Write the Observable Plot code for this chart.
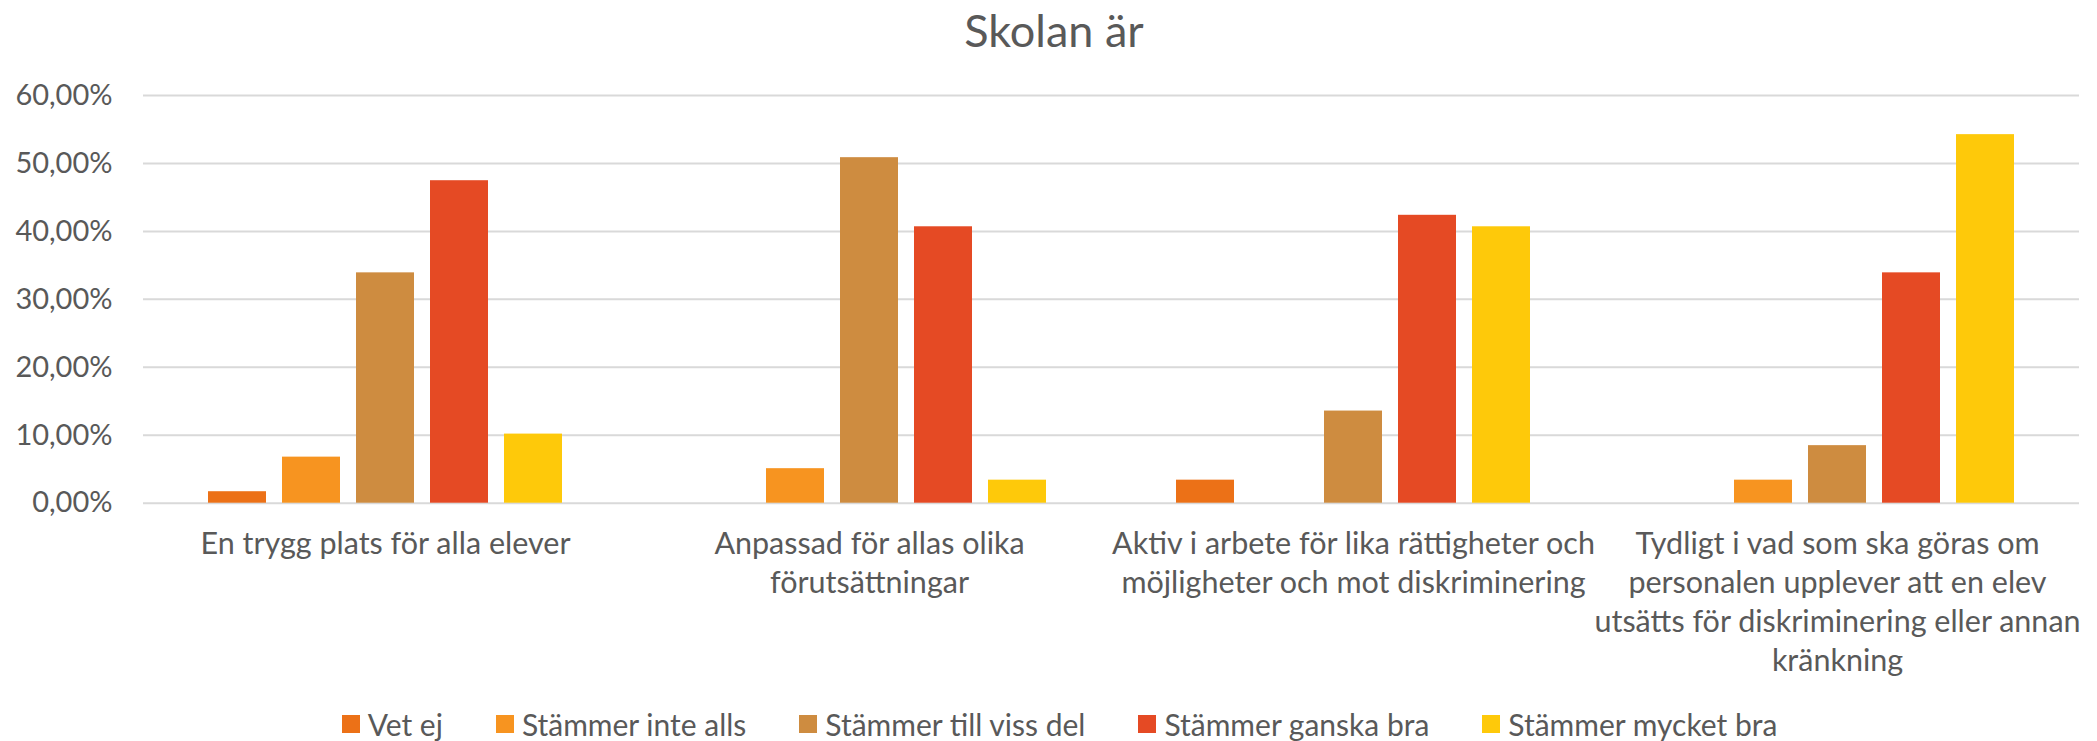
<!DOCTYPE html>
<html>
<head>
<meta charset="utf-8">
<script src="https://cdn.jsdelivr.net/npm/d3@7"></script>
<script src="https://cdn.jsdelivr.net/npm/@observablehq/plot@0.6"></script>
<style>
  html, body { margin: 0; padding: 0; background: #fff; }
  body { width: 2097px; height: 741px; overflow: hidden; position: relative; font-family: Lato, sans-serif; color: #595959; }
  #title { position: absolute; left: 0; top: 0; width: 2097px; height: 60px; line-height: 60px; text-align: center; font-size: 45px; padding-left: 11px; box-sizing: border-box; }
  #chart { position: absolute; left: 0; top: 60px; }
  #legend { position: absolute; left: 0; top: 705px; width: 2097px; height: 38px; display: flex; justify-content: center; align-items: center; padding-left: 22px; box-sizing: border-box; font-size: 30px; }
  .item { display: flex; align-items: center; margin: 0 26.5px; white-space: nowrap; }
  .sw { width: 18px; height: 18px; margin-right: 8px; display: inline-block; }
</style>
</head>
<body>
<div id="title">Skolan är</div>
<div id="chart"></div>
<div id="legend"></div>
<script>
// Categories (x groups)
const categories = [
  "En trygg plats för alla elever",
  "Anpassad för allas olika förutsättningar",
  "Aktiv i arbete för lika rättigheter och möjligheter och mot diskriminering",
  "Tydligt i vad som ska göras om personalen upplever att en elev utsätts för diskriminering eller annan kränkning"
];
// Tick labels as wrapped in the reference
const tickLabels = [
  "En trygg plats för alla elever",
  "Anpassad för allas olika\nförutsättningar",
  "Aktiv i arbete för lika rättigheter och\nmöjligheter och mot diskriminering",
  "Tydligt i vad som ska göras om\npersonalen upplever att en elev\nutsätts för diskriminering eller annan\nkränkning"
];
// Series
const series = ["Vet ej", "Stämmer inte alls", "Stämmer till viss del", "Stämmer ganska bra", "Stämmer mycket bra"];
const colors = ["#EC7117", "#F79420", "#CE8C40", "#E54A24", "#FEC90A"];
// Values in percent, one per category
const vetEj       = [1.69, 0,     3.39,  0];
const inteAlls    = [6.78, 5.08,  0,     3.39];
const tillVissDel = [33.90, 50.85, 13.56, 8.47];
const ganskaBra   = [47.46, 40.68, 42.37, 33.90];
const mycketBra   = [10.17, 3.39,  40.68, 54.24];
// Y ticks
const yTicks = [0, 10, 20, 30, 40, 50, 60];

const seriesValues = [vetEj, inteAlls, tillVissDel, ganskaBra, mycketBra];
const data = [];
categories.forEach((c, i) => {
  series.forEach((s, j) => {
    data.push({category: c, series: s, value: seriesValues[j][i]});
  });
});

const fmt = d => d.toFixed(2).replace(".", ",") + "%";

const chart = Plot.plot({
  width: 2097,
  height: 640,
  marginTop: 35,
  marginBottom: 197.3,
  marginLeft: 141,
  marginRight: 16.5,
  style: {fontFamily: "Lato, sans-serif", fontSize: "29px", color: "#595959", background: "white", overflow: "visible"},
  fx: {domain: categories, paddingInner: 0, paddingOuter: 0, label: null},
  x: {domain: series, paddingInner: 0.217, paddingOuter: 0.855, axis: null},
  y: {domain: [0, 60], label: null},
  color: {domain: series, range: colors},
  marks: [
    Plot.gridY(yTicks, {stroke: "#d9d9d9", strokeOpacity: 1, strokeWidth: 2}),
    Plot.barY(data, {fx: "category", x: "series", y: "value", fill: "series"}),
    Plot.axisY(yTicks, {tickSize: 0, tickPadding: 31, tickFormat: fmt, fill: "#595959", fontSize: 29, label: null}),
    Plot.axisFx({anchor: "bottom", tickSize: 0, tickPadding: 22.6, lineHeight: 1.279, fontSize: 30.5, fill: "#595959", label: null,
      tickFormat: d => tickLabels[categories.indexOf(d)]})
  ]
});
document.getElementById("chart").appendChild(chart);

const legend = document.getElementById("legend");
series.forEach((s, i) => {
  const item = document.createElement("div");
  item.className = "item";
  const sw = document.createElement("span");
  sw.className = "sw";
  sw.style.background = colors[i];
  const t = document.createElement("span");
  t.textContent = s;
  item.appendChild(sw);
  item.appendChild(t);
  legend.appendChild(item);
});
</script>
</body>
</html>
